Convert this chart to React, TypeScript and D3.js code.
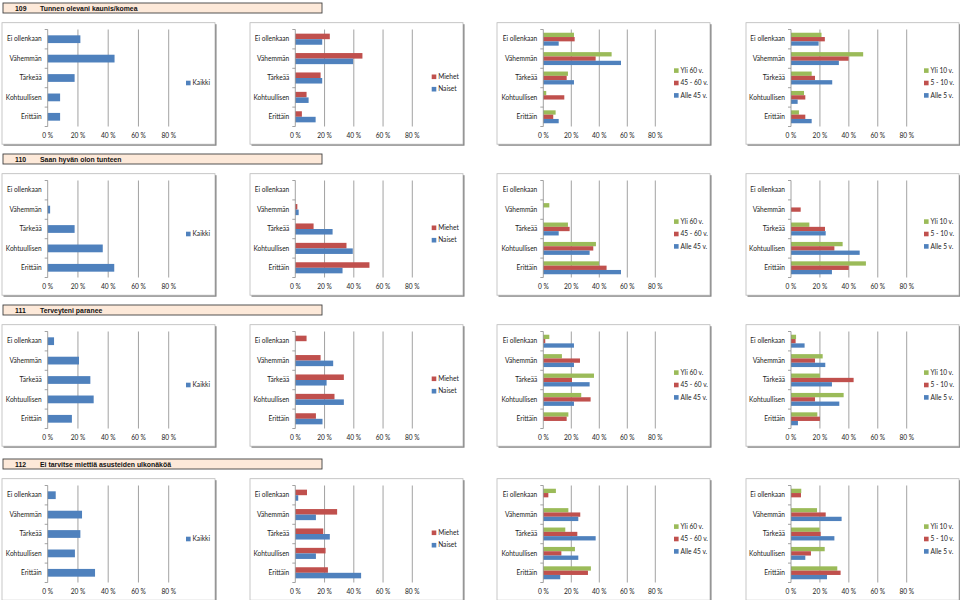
import React from "react";
import * as d3 from "d3";

const categories = ["Ei ollenkaan", "Vähemmän", "Tärkeää", "Kohtuullisen", "Erittäin"];
const sectionNumbers = ["109", "110", "111", "112"];
const sectionTitles = [
  "Tunnen olevani kaunis/komea",
  "Saan hyvän olon tunteen",
  "Terveyteni paranee",
  "Ei tarvitse miettiä asusteiden ulkonäköä",
];
const tickValues = [0, 20, 40, 60, 80];

const seriesAll = ["Kaikki"];
const seriesGender = ["Miehet", "Naiset"];
const seriesAge = ["Yli 60 v.", "45 - 60 v.", "Alle 45 v."];
const seriesYears = ["Yli 10 v.", "5 - 10 v.", "Alle 5 v."];

// 109
const kaikki109 = [21.6, 44.2, 17.8, 8.2, 8.2];
const miehet109 = [23.6, 45.9, 17.3, 7.7, 4.5];
const naiset109 = [18.4, 39.5, 18.4, 9.1, 13.9];
const yli60_109 = [21.9, 48.8, 17.6, 2.1, 8.8];
const v45_60_109 = [22.4, 37.4, 16.7, 15.0, 7.1];
const alle45_109 = [11.0, 55.5, 21.9, 0, 11.0];
const yli10_109 = [21.1, 49.9, 14.3, 9.0, 5.5];
const v5_10_109 = [23.4, 39.8, 16.6, 9.9, 9.9];
const alle5_109 = [19.1, 33.1, 28.5, 4.6, 14.3];

// 110
const kaikki110 = [0, 1.6, 17.8, 36.4, 44.0];
const miehet110 = [0, 1.4, 12.5, 35.0, 50.7];
const naiset110 = [0, 2.3, 25.5, 39.3, 32.3];
const yli60_110 = [0, 4.3, 17.6, 37.6, 39.8];
const v45_60_110 = [0, 0, 18.8, 35.7, 45.2];
const alle45_110 = [0, 0, 11.0, 33.1, 55.5];
const yli10_110 = [0, 0, 12.7, 35.7, 51.8];
const v5_10_110 = [0, 6.7, 23.5, 30.0, 39.9];
const alle5_110 = [0, 0, 24.0, 47.5, 28.3];

// 111
const kaikki111 = [4.2, 20.7, 28.2, 30.4, 16.0];
const miehet111 = [7.7, 17.3, 33.2, 26.8, 14.1];
const naiset111 = [0, 25.9, 21.4, 33.2, 18.6];
const yli60_111 = [4.3, 13.3, 36.2, 27.1, 17.9];
const v45_60_111 = [1.4, 26.2, 20.5, 33.8, 16.7];
const alle45_111 = [21.9, 21.9, 33.1, 21.9, 0];
const yli10_111 = [3.5, 21.9, 20.0, 36.4, 18.2];
const v5_10_111 = [3.2, 16.6, 43.3, 16.6, 20.0];
const alle5_111 = [9.4, 23.7, 28.3, 33.4, 4.8];

// 112
const kaikki112 = [5.3, 22.7, 21.6, 18.0, 31.3];
const miehet112 = [8.0, 28.6, 19.1, 20.7, 22.3];
const naiset112 = [2.0, 14.1, 23.6, 14.1, 45.0];
const yli60_112 = [9.0, 17.9, 15.7, 22.6, 34.0];
const v45_60_112 = [3.6, 26.4, 24.3, 12.9, 31.9];
const alle45_112 = [0, 25.0, 37.4, 25.0, 12.1];
const yli10_112 = [7.1, 18.0, 19.8, 23.3, 32.0];
const v5_10_112 = [6.9, 24.0, 20.5, 13.8, 34.3];
const alle5_112 = [0, 35.0, 30.0, 9.9, 24.9];

const colorsOne = ["#4F81BD"];
const colorsTwo = ["#C0504D", "#4F81BD"];
const colorsThree = ["#9BBB59", "#C0504D", "#4F81BD"];

const sections = [
  [[kaikki109], [miehet109, naiset109], [yli60_109, v45_60_109, alle45_109], [yli10_109, v5_10_109, alle5_109]],
  [[kaikki110], [miehet110, naiset110], [yli60_110, v45_60_110, alle45_110], [yli10_110, v5_10_110, alle5_110]],
  [[kaikki111], [miehet111, naiset111], [yli60_111, v45_60_111, alle45_111], [yli10_111, v5_10_111, alle5_111]],
  [[kaikki112], [miehet112, naiset112], [yli60_112, v45_60_112, alle45_112], [yli10_112, v5_10_112, alle5_112]],
];
const columnSeries = [seriesAll, seriesGender, seriesAge, seriesYears];
const columnColors = [colorsOne, colorsTwo, colorsThree, colorsThree];

// layout
const headerTops = [3, 154, 305, 459];
const panelX = [2, 250, 497, 746];
const panelW = 213;
const panelH = 121.5;
const axisOffset = [45.7, 45.3, 46.3, 45];
const plotWidth80 = [121, 117, 112, 115.7];
const legendX = [184, 181.7, 177, 178];
const FONT = "Lato, 'Liberation Sans', sans-serif";

function Panel({ x, y, col, data }: { x: number; y: number; col: number; data: number[][] }) {
  const plotTop = 6.8;
  const plotBottom = plotTop + 19.4 * 5;
  const x0 = axisOffset[col];
  const xs = d3.scaleLinear().domain([0, 80]).range([x0, x0 + plotWidth80[col]]);
  const ys = d3.scaleBand().domain(categories).range([plotTop, plotBottom]).paddingInner(0).paddingOuter(0);
  const n = data.length;
  const bw = ys.bandwidth();
  const barH = bw / (n + 1.5);
  const sub = d3.scaleBand().domain(d3.range(n).map(String)).range([(bw - barH * n) / 2, (bw + barH * n) / 2]);
  const series = columnSeries[col];
  const colors = columnColors[col];
  const legendCenter = 60.3;
  const legendStep = 12.4;
  return (
    <g transform={`translate(${x},${y})`}>
      <rect x={1.5} y={1.5} width={panelW} height={panelH} fill="#7f7f7f" />
      <rect x={0} y={0} width={panelW} height={panelH} fill="#fff" stroke="#b9b9b9" strokeWidth={0.8} />
      {tickValues.slice(1).map((t) => (
        <line key={t} x1={xs(t)} x2={xs(t)} y1={plotTop} y2={plotBottom} stroke="#8a8a8a" strokeWidth={0.8} />
      ))}
      {data.map((vals, si) =>
        vals.map((v, ci) =>
          v > 0 ? (
            <rect
              key={`${si}-${ci}`}
              x={xs(0)}
              y={(ys(categories[ci]) as number) + (sub(String(si)) as number)}
              width={xs(v) - xs(0)}
              height={barH}
              fill={colors[si]}
            />
          ) : null
        )
      )}
      <line x1={xs(0)} x2={xs(0)} y1={plotTop} y2={plotBottom} stroke="#8a8a8a" strokeWidth={0.8} />
      {d3.range(6).map((i) => (
        <line key={i} x1={xs(0) - 3} x2={xs(0)} y1={plotTop + i * bw} y2={plotTop + i * bw} stroke="#8a8a8a" strokeWidth={0.8} />
      ))}
      {categories.map((c) => (
        <text key={c} x={xs(0) - 6} y={(ys(c) as number) + bw / 2 + 2.3} textAnchor="end" fontSize={6.6} fontFamily={FONT} fill="#222">
          {c}
        </text>
      ))}
      {tickValues.map((t) => (
        <text key={t} x={xs(t)} y={plotBottom + 12} textAnchor="middle" fontSize={6.6} fontFamily={FONT} fill="#222">
          {`${t} %`}
        </text>
      ))}
      {series.map((s, i) => {
        const ly = legendCenter + (i - (series.length - 1) / 2) * legendStep;
        return (
          <g key={s}>
            <rect x={legendX[col]} y={ly - 2.3} width={4.6} height={4.6} fill={colors[i]} />
            <text x={legendX[col] + 6.5} y={ly + 2.3} fontSize={6.6} fontFamily={FONT} fill="#222">
              {s}
            </text>
          </g>
        );
      })}
    </g>
  );
}

export default function App() {
  return (
    <svg width={960} height={600} style={{ position: "absolute", left: 0, top: 0, background: "#fff" }}>
      <rect x={0} y={0} width={960} height={600} fill="#fff" />
      {sections.map((sec, si) => {
        const hy = headerTops[si];
        return (
          <g key={si}>
            <rect x={3} y={hy} width={319} height={10} fill="#FDE9D9" stroke="#404040" strokeWidth={0.9} />
            <text x={15} y={hy + 7.6} fontSize={6.9} fontWeight="bold" fontFamily="'Liberation Sans', Arial, sans-serif" fill="#111">
              {sectionNumbers[si]}
            </text>
            <text x={40} y={hy + 7.6} fontSize={6.9} fontWeight="bold" fontFamily="'Liberation Sans', Arial, sans-serif" fill="#111">
              {sectionTitles[si]}
            </text>
            {sec.map((data, ci) => (
              <Panel key={ci} x={panelX[ci]} y={hy + 19.7} col={ci} data={data} />
            ))}
          </g>
        );
      })}
    </svg>
  );
}
